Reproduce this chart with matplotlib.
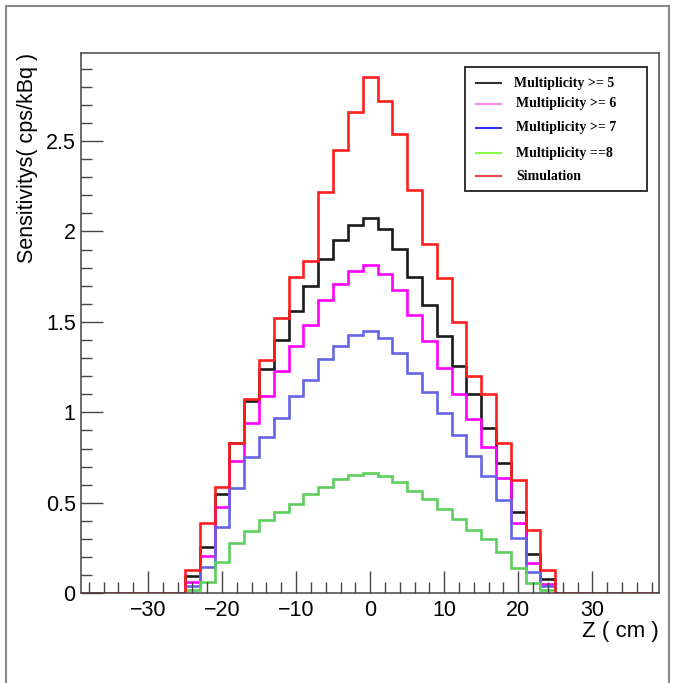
import numpy as np
import matplotlib
matplotlib.use("Agg")
import matplotlib.pyplot as plt
from matplotlib.lines import Line2D

# ---- data ----
bin_edges = np.arange(-39, 40, 2)          # 39 bins of 2 cm
centers = (bin_edges[:-1] + bin_edges[1:]) / 2
nz_centers = np.arange(-24, 25, 2)          # non-zero bins

simulation = [0.131, 0.386, 0.589, 0.833, 1.072, 1.289, 1.523, 1.749, 1.837, 2.221,
              2.453, 2.662, 2.852, 2.719, 2.540, 2.227, 1.933, 1.743, 1.500, 1.200,
              1.101, 0.830, 0.627, 0.349, 0.127]
mult_ge5 = [0.095, 0.257, 0.551, 0.831, 1.065, 1.242, 1.398, 1.559, 1.696, 1.848,
            1.953, 2.035, 2.075, 2.015, 1.904, 1.751, 1.591, 1.420, 1.257, 1.101,
            0.915, 0.722, 0.452, 0.215, 0.080]
mult_ge6 = [0.061, 0.205, 0.475, 0.732, 0.941, 1.090, 1.230, 1.369, 1.483, 1.622,
            1.711, 1.784, 1.817, 1.767, 1.674, 1.538, 1.396, 1.248, 1.101, 0.963,
            0.807, 0.640, 0.389, 0.165, 0.051]
mult_ge7 = [0.038, 0.146, 0.367, 0.580, 0.751, 0.865, 0.970, 1.090, 1.179, 1.293,
            1.365, 1.426, 1.448, 1.410, 1.330, 1.219, 1.111, 0.997, 0.877, 0.760,
            0.646, 0.513, 0.304, 0.118, 0.038]
mult_eq8 = [0.020, 0.061, 0.171, 0.276, 0.346, 0.403, 0.447, 0.494, 0.548, 0.589,
            0.631, 0.652, 0.666, 0.648, 0.616, 0.564, 0.522, 0.465, 0.408, 0.351,
            0.298, 0.228, 0.142, 0.057, 0.019]

labels = ["Multiplicity >= 5", "Multiplicity >= 6", "Multiplicity >= 7",
          "Multiplicity ==8", "Simulation"]
series = [mult_ge5, mult_ge6, mult_ge7, mult_eq8, simulation]
colors = ["#1a1a1a", "#ff00ff", "#6464e6", "#5ccf5c", "#ff1e1e"]
legend_colors = ["#333333", "#ff88ff", "#3333ff", "#88ff44", "#ff4444"]

xticks = [-30, -20, -10, 0, 10, 20, 30]
yticks = [0, 0.5, 1, 1.5, 2, 2.5]


def full(vals):
    arr = np.zeros(len(centers))
    for c, v in zip(nz_centers, vals):
        arr[np.argmin(np.abs(centers - c))] = v
    return arr


W, H = 676, 683
fig = plt.figure(figsize=(W / 100, H / 100), dpi=100)
fig.patch.set_facecolor("white")

L, R, T, B = 81.3, 659, 53.3, 593.3
ax = fig.add_axes([L / W, 1 - B / H, (R - L) / W, (B - T) / H])

for vals, col in zip(series, colors):
    ax.stairs(full(vals), bin_edges, color=col, lw=1.9, baseline=0)

ax.set_xlim(-39, 39)
ax.set_ylim(0, 2.985)

sans = "Liberation Sans"
ax.set_xticks(xticks)
ax.set_xticks(np.arange(-38, 39, 2), minor=True)
ax.set_yticks(yticks)
ax.set_yticks(np.arange(0, 2.99, 0.1), minor=True)
ax.set_xticklabels([f"{t}".replace("-", "\u2212") for t in xticks], fontfamily=sans, fontsize=15.5)
ax.set_yticklabels(["0", "0.5", "1", "1.5", "2", "2.5"], fontfamily=sans, fontsize=15.5)
ax.tick_params(axis="both", which="major", direction="in", length=16, width=1, color="#444444",
               top=False, right=False)
ax.tick_params(axis="both", which="minor", direction="in", length=8, width=1, color="#444444",
               top=False, right=False)
ax.tick_params(axis="x", which="major", pad=5)
ax.tick_params(axis="y", which="major", pad=4)
for s in ax.spines.values():
    s.set_color("#444444")
    s.set_linewidth(1.1)

# axis titles (ROOT style, aligned to the axis ends)
ax.text(28 / W, 1 - T / H, "Sensitivitys( cps/kBq )", transform=fig.transFigure,
        rotation=90, ha="center", va="top", fontfamily=sans, fontsize=15.5)
ax.text(R / W, 1 - 632 / H, "Z ( cm )", transform=fig.transFigure,
        ha="right", va="center", fontfamily=sans, fontsize=16)

# legend box drawn manually
lx0, lx1, ly0, ly1 = 465, 646.7, 67.3, 190.7
fig.patches.append(plt.Rectangle((lx0 / W, 1 - ly1 / H), (lx1 - lx0) / W, (ly1 - ly0) / H,
                                 transform=fig.transFigure, fill=True, facecolor="white",
                                 edgecolor="#222222", lw=1.3, zorder=5))
rows_y = [83.3, 104, 127.7, 153.3, 176]
text_x = [514, 516, 516, 516, 516]
for lab, col, yy, tx in zip(labels, legend_colors, rows_y, text_x):
    fig.add_artist(Line2D([476 / W, 500.7 / W], [1 - yy / H, 1 - yy / H],
                          transform=fig.transFigure, color=col, lw=1.5, zorder=6))
    fig.text(tx / W, 1 - yy / H, lab, ha="left", va="center",
             fontfamily="Liberation Serif", fontweight="bold", fontsize=10, zorder=6)

# canvas frame
frame_col = "#8a8a8a"
fig.add_artist(Line2D([6 / W, 6 / W], [0, 1 - 6 / H], transform=fig.transFigure, color=frame_col, lw=1.5))
fig.add_artist(Line2D([6 / W, 669 / W], [1 - 6 / H, 1 - 6 / H], transform=fig.transFigure, color=frame_col, lw=1.5))
fig.add_artist(Line2D([669 / W, 669 / W], [0, 1 - 6 / H], transform=fig.transFigure, color=frame_col, lw=1.5))

fig.savefig("out.png", dpi=100, facecolor="white")
